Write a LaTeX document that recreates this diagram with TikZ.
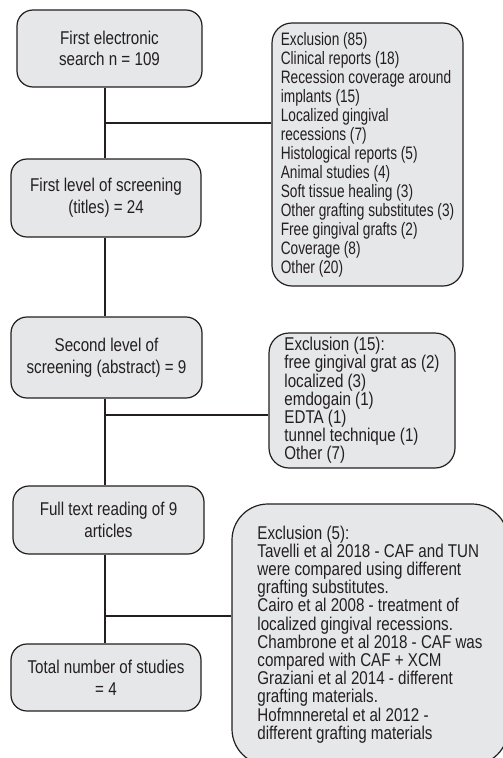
\documentclass[tikz,border=0pt]{standalone}
\usepackage{fontspec}
\setmainfont{Liberation Sans}[FakeStretch=0.82]
\newfontfamily\narrowfont{Liberation Sans}[FakeStretch=0.76]
\definecolor{boxfill}{HTML}{E6E7E8}
\definecolor{ink}{HTML}{231F20}
\begin{document}
\begin{tikzpicture}[x=1pt,y=-1pt,
  box/.style={draw=ink, fill=boxfill, line width=1.2pt, rounded corners=16pt,
    inner sep=0pt, align=center, text=ink, font=\fontsize{18.5}{21.7}\selectfont},
  rbox/.style={box, align=left, rounded corners=20pt},
  conn/.style={draw=ink, line width=1.2pt}]
\useasboundingbox (0,0) rectangle (503,758);

% left column
\node[box, minimum width=185pt, minimum height=77pt] (b1) at (109.5,48.5)
  {First electronic\\search n = 109};
\node[box, minimum width=190pt, minimum height=78pt] (b2) at (106,198)
  {First level of screening\\(titles) = 24};
\node[box, minimum width=191pt, minimum height=81pt] (b3) at (106.5,357.5)
  {Second level of\\screening (abstract) = 9};
\node[box, minimum width=191pt, minimum height=68pt] (b4) at (108.5,520)
  {Full text reading of 9\\articles};
\node[box, minimum width=190pt, minimum height=67pt] (b5) at (106,677.5)
  {Total number of studies\\= 4};

% right column
\node[rbox, minimum width=191pt, minimum height=263pt,
  font=\narrowfont\fontsize{18}{19}\selectfont] (r1) at (367.5,154.5)
  {Exclusion (85)\\Clinical reports (18)\\Recession coverage around\\implants (15)\\Localized gingival\\recessions (7)\\Histological reports (5)\\Animal studies (4)\\Soft tissue healing (3)\\Other grafting substitutes (3)\\Free gingival grafts (2)\\Coverage (8)\\Other (20)};
\node[rbox, minimum width=186pt, minimum height=135pt,
  font=\fontsize{18.5}{18.2}\selectfont] (r2) at (362,400.5)
  {Exclusion (15):\\free gingival grat as (2)\\localized (3)\\emdogain (1)\\EDTA (1)\\tunnel technique (1)\\Other (7)};
\node[rbox, rounded corners=36pt, minimum width=276pt, minimum height=261pt,
  font=\fontsize{18.5}{18.2}\selectfont] (r3) at (370,634.5)
  {Exclusion (5):\\Tavelli et al 2018 - CAF and TUN\\were compared using different\\grafting substitutes.\\Cairo et al 2008 - treatment of\\localized gingival recessions.\\Chambrone et al 2018 - CAF was\\compared with CAF + XCM\\Graziani et al 2014 - different\\grafting materials.\\Hofmnneretal et al 2012 -\\different grafting materials};

% connectors
\coordinate (j1) at (105,123);
\coordinate (j2) at (105,415);
\coordinate (j3) at (105,616);
\draw[conn] (b1.south -| j1) -- (b2.north -| j1);
\draw[conn] (j1) -- (j1 -| r1.west);
\draw[conn] (b2.south -| j1) -- (b3.north -| j1);
\draw[conn] (b3.south -| j2) -- (b4.north -| j2);
\draw[conn] (j2) -- (j2 -| r2.west);
\draw[conn] (b4.south -| j3) -- (b5.north -| j3);
\draw[conn] (j3) -- (j3 -| r3.west);
\end{tikzpicture}
\end{document}
